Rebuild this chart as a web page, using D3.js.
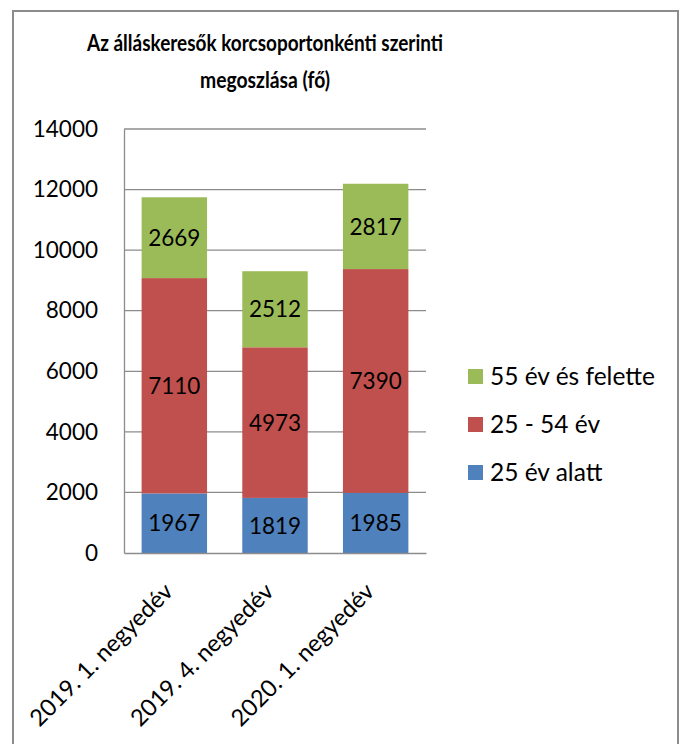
<!DOCTYPE html>
<html>
<head>
<meta charset="utf-8">
<script src="https://cdn.jsdelivr.net/npm/d3@7"></script>
<style>
  body { margin: 0; background: #fff; }
  text { font-family: Lato, "Open Sans", sans-serif; }
</style>
</head>
<body>
<div class="chart"></div>
<script>
// data
const categories = ["2019. 1. negyedév", "2019. 4. negyedév", "2020. 1. negyedév"];
const under25 = [1967, 1819, 1985];
const mid25to54 = [7110, 4973, 7390];
const over55 = [2669, 2512, 2817];
const seriesNames = ["25 év alatt", "25 - 54 év", "55 év és felette"];
const seriesColors = ["#4F81BD", "#C0504D", "#9BBB59"];
const yTicks = [0, 2000, 4000, 6000, 8000, 10000, 12000, 14000];

const outerWidth = 687;
const outerHeight = 744;
const margin = {top: 129, left: 124, bottom: 191, right: 261};
const width = outerWidth - margin.left - margin.right;
const height = outerHeight - margin.top - margin.bottom;

const root = d3.select(".chart")
            .append("svg")
            .attr("width", outerWidth)
            .attr("height", outerHeight);

// outer frame
root.append("rect")
    .attr("x", 13).attr("y", 11)
    .attr("width", 665).attr("height", 760)
    .attr("fill", "none")
    .attr("stroke", "#8c8c8c")
    .attr("stroke-width", 2);

// title
const title = root.append("text")
    .attr("text-anchor", "middle")
    .attr("font-weight", "bold")
    .attr("font-size", 22.5)
    .attr("fill", "#000");
title.append("tspan").attr("x", 265).attr("y", 51)
    .attr("textLength", 356).attr("lengthAdjust", "spacingAndGlyphs")
    .text("Az álláskeresők korcsoportonkénti szerinti");
title.append("tspan").attr("x", 265).attr("y", 88)
    .attr("textLength", 130).attr("lengthAdjust", "spacingAndGlyphs")
    .text("megoszlása (fő)");

const svg = root.append("g")
            .attr("transform", `translate(${margin.left}, ${margin.top})`);

const xScale = d3.scaleBand()
            .domain(categories)
            .range([0, width])
            .paddingInner(0.35)
            .paddingOuter(0.175);

const yScale = d3.scaleLinear()
            .domain([0, 14000])
            .range([height, 0]);

// gridlines
svg.append("g")
    .selectAll("line")
    .data(yTicks.slice(1))
    .join("line")
    .attr("x1", 0).attr("x2", width)
    .attr("y1", d => yScale(d)).attr("y2", d => yScale(d))
    .attr("stroke", "#8c8c8c")
    .attr("stroke-width", 1.3);

// stacked data
const rows = categories.map((c, i) => ({cat: c, s0: under25[i], s1: mid25to54[i], s2: over55[i]}));
const stacked = d3.stack().keys(["s0", "s1", "s2"])(rows);

const layers = svg.append("g")
    .selectAll("g")
    .data(stacked)
    .join("g")
    .attr("fill", (d, i) => seriesColors[i]);

layers.selectAll("rect")
    .data(d => d)
    .join("rect")
    .attr("x", d => xScale(d.data.cat))
    .attr("width", xScale.bandwidth())
    .attr("y", d => yScale(d[1]))
    .attr("height", d => yScale(d[0]) - yScale(d[1]));

layers.selectAll("text")
    .data(d => d.map(v => ({v, val: v[1] - v[0]})))
    .join("text")
    .attr("x", d => xScale(d.v.data.cat) + xScale.bandwidth() / 2)
    .attr("y", d => (yScale(d.v[0]) + yScale(d.v[1])) / 2)
    .attr("dy", "0.36em")
    .attr("text-anchor", "middle")
    .attr("font-size", 22.5)
    .attr("fill", "#000")
    .text(d => d.val);

// axes
const yAxis = d3.axisLeft(yScale).tickValues(yTicks).tickFormat(d3.format("d"))
    .tickSize(0).tickPadding(26);
const gy = svg.append("g").attr("class", "axis-y-axis").call(yAxis);
gy.select(".domain").attr("stroke", "#8c8c8c").attr("stroke-width", 1.3);
gy.selectAll("text").attr("font-size", 22.5).attr("fill", "#000")
    .style("font-family", "Lato, 'Open Sans', sans-serif");

const xAxis = d3.axisBottom(xScale).tickSize(0).tickPadding(0);
const gx = svg.append("g").attr("class", "axis-x-axis")
    .attr("transform", `translate(0, ${height})`)
    .call(xAxis);
gx.select(".domain").attr("stroke", "#8c8c8c").attr("stroke-width", 1.3);
gx.selectAll("text")
    .attr("font-size", 23.5)
    .attr("fill", "#000")
    .style("font-family", "Lato, 'Open Sans', sans-serif")
    .attr("text-anchor", "end")
    .attr("dy", 0)
    .attr("transform", "translate(0, 40) rotate(-45)");

// legend
const legend = root.append("g")
    .selectAll("g")
    .data([2, 1, 0])
    .join("g")
    .attr("transform", (d, i) => `translate(468, ${369 + i * 48})`);
legend.append("rect")
    .attr("width", 15).attr("height", 15)
    .attr("fill", d => seriesColors[d]);
legend.append("text")
    .attr("x", 22).attr("y", 16)
    .attr("font-size", 24.5)
    .attr("fill", "#000")
    .text(d => seriesNames[d]);
</script>
</body>
</html>
